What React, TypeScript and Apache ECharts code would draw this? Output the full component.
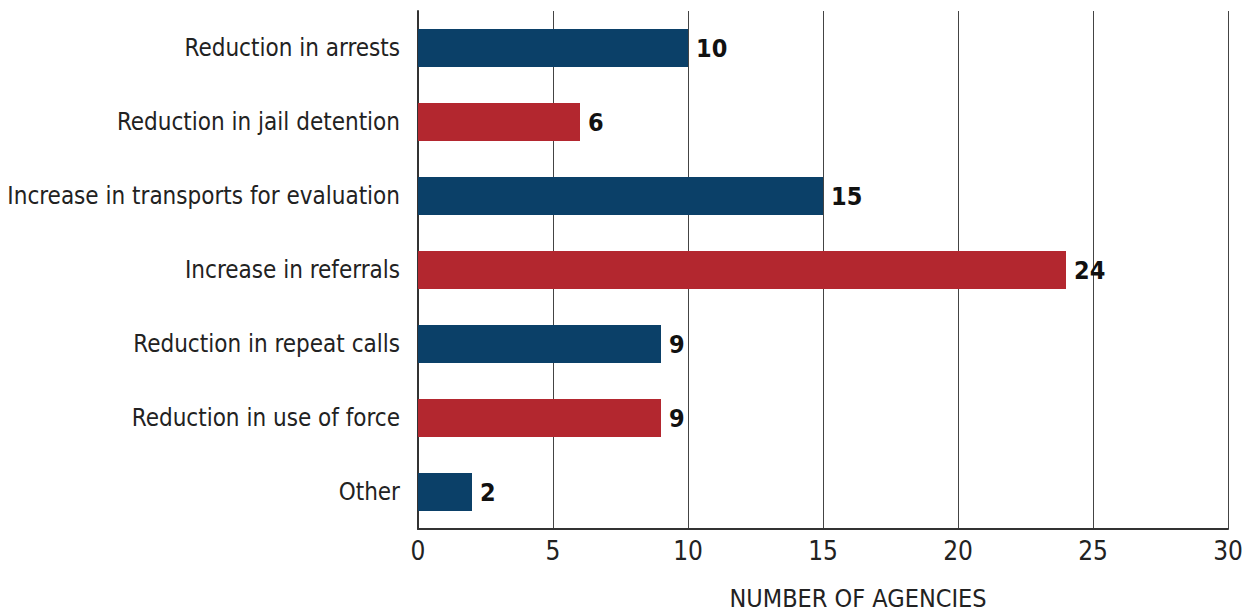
import React, { useEffect, useRef } from "react";
import * as echarts from "echarts";

const categories = [
  "Reduction in arrests",
  "Reduction in jail detention",
  "Increase in transports for evaluation",
  "Increase in referrals",
  "Reduction in repeat calls",
  "Reduction in use of force",
  "Other",
];
const values = [10, 6, 15, 24, 9, 9, 2];
const barColors = ["#0B4068", "#B3272F", "#0B4068", "#B3272F", "#0B4068", "#B3272F", "#0B4068"];
const xTicks = { min: 0, max: 30, interval: 5 };
const xTitle = "NUMBER OF AGENCIES";

const FONT = "'Liberation Sans Narrow', 'DejaVu Sans Condensed', 'Roboto', sans-serif";

export default function App() {
  const ref = useRef<HTMLDivElement>(null);
  useEffect(() => {
    document.body.style.margin = "0";
    const chart = echarts.init(ref.current!, null, { renderer: "svg" });
    chart.setOption({
      animation: false,
      grid: { left: 418, right: 16, top: 11, bottom: 85, containLabel: false, outerBoundsMode: "none" },
      xAxis: {
        type: "value",
        min: xTicks.min,
        max: xTicks.max,
        interval: xTicks.interval,
        axisLine: { show: true, lineStyle: { color: "#333", width: 2 } },
        axisTick: { show: false },
        splitLine: { show: true, lineStyle: { color: "#444", width: 1 } },
        axisLabel: { color: "#222", fontSize: 26, fontFamily: FONT, margin: 9 },
      },
      yAxis: {
        type: "category",
        inverse: true,
        data: categories,
        axisLine: { show: true, lineStyle: { color: "#333", width: 2 } },
        axisTick: { show: false },
        axisLabel: { color: "#222", fontSize: 24, fontFamily: FONT, margin: 18 },
      },
      graphic: [
        {
          type: "text",
          x: 858,
          y: 598,
          style: {
            text: xTitle,
            fill: "#222",
            font: `25px ${FONT}`,
            align: "center",
            verticalAlign: "middle",
          },
        },
      ],
      series: [
        {
          type: "bar",
          barWidth: 38,
          data: values.map((v, i) => ({ value: v, itemStyle: { color: barColors[i] } })),
          label: {
            show: true,
            position: "right",
            distance: 8,
            color: "#111",
            fontWeight: "bold",
            fontSize: 25,
            fontFamily: FONT,
          },
        },
      ],
    });
    return () => chart.dispose();
  }, []);
  return <div ref={ref} style={{ width: 1244, height: 614 }} />;
}
